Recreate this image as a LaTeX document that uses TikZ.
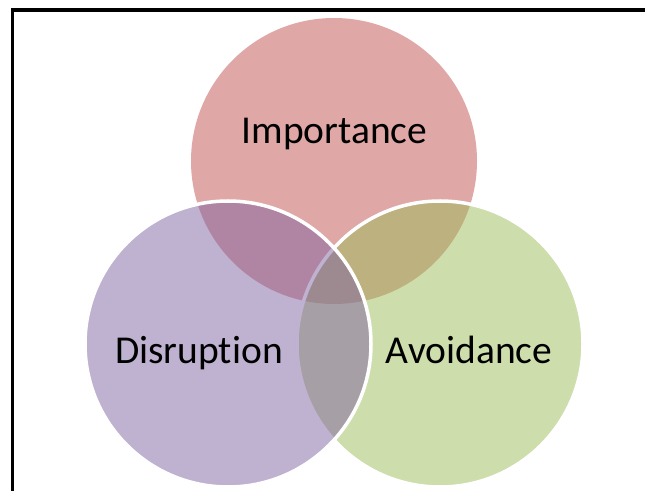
\documentclass[tikz,border=0pt]{standalone}
\usepackage{fontspec}
\setmainfont{Carlito}[Ligatures=NoCommon]
\definecolor{impc}{RGB}{192,80,77}
\definecolor{avoc}{RGB}{155,187,89}
\definecolor{disc}{RGB}{128,100,162}
\begin{document}
\begin{tikzpicture}[x=1pt,y=1pt,
  venn/.style={circle,minimum size=286pt,inner sep=0pt,fill opacity=0.5,draw opacity=1},
  lbl/.style={anchor=base,font=\fontsize{39.5}{47}\selectfont,text=black,inner sep=0pt}]
\useasboundingbox (0,0) rectangle (645,490);
\clip (0,0) rectangle (645,490);
\draw[line width=3.2pt] (12.5,-10) -- (12.5,480) -- (700,480);
\node[venn,fill=impc] (imp) at (334,329) {};
\node[venn,fill=avoc,draw=white,line width=3.5pt] (avo) at (440,146) {};
\node[venn,fill=disc,draw=white,line width=3.5pt] (dis) at (228,146) {};
\node[lbl] (timp) at (334.5,346) {Importance};
\node[lbl] (tdis) at (199,126) {Disruption};
\node[lbl] (tavo) at (469,126) {Avoidance};
\end{tikzpicture}
\end{document}
